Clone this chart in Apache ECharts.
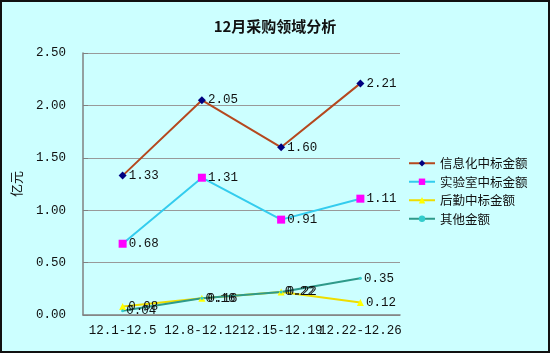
<!DOCTYPE html>
<html>
<head>
<meta charset="utf-8">
<script src="https://cdn.jsdelivr.net/npm/echarts@6/dist/echarts.min.js"></script>
<style>
  html, body { margin: 0; padding: 0; }
  #main { width: 550px; height: 353px; box-sizing: border-box; border: 2px solid #111; background: #ccffff; }
</style>
</head>
<body>
<div id="main"></div>
<script>
// periods and amounts (亿元)
var periods = ["12.1-12.5", "12.8-12.12", "12.15-12.19", "12.22-12.26"];
var infoAmt  = [1.33, 2.05, 1.60, 2.21];
var labAmt   = [0.68, 1.31, 0.91, 1.11];
var logiAmt  = [0.08, 0.16, 0.22, 0.12];
var otherAmt = [0.04, 0.16, 0.22, 0.35];
var yTicks = ["0.00", "0.50", "1.00", "1.50", "2.00", "2.50"];

var mono = "Liberation Mono";
var cjk = "Noto Sans CJK SC";

function mkSeries(name, data, lineColor, sym, symColor, symSize) {
  return {
    name: name,
    type: 'line',
    data: data,
    symbol: sym,
    symbolSize: symSize,
    lineStyle: { color: lineColor, width: 2 },
    itemStyle: { color: symColor },
    label: {
      show: true, position: 'right', distance: 2,
      fontFamily: mono, fontSize: 12.5, color: '#111',
      formatter: function (p) { return p.value.toFixed(2); }
    },
    animation: false
  };
}

var myChart = echarts.init(document.getElementById('main'));
var option = {
  title: {
    text: '12月采购领域分析',
    left: 'center', top: 12,
    textStyle: { fontFamily: cjk, fontSize: 15, fontWeight: 'bold', color: '#111' }
  },
  grid: { left: 78, right: 148, top: 51, bottom: 36 },
  legend: {
    orient: 'vertical', left: 401, top: 150,
    itemWidth: 26, itemHeight: 8, itemGap: 6,
    textStyle: { fontFamily: cjk, fontSize: 12.5, color: '#111' },
    data: ['信息化中标金额', '实验室中标金额', '后勤中标金额', '其他金额']
  },
  xAxis: {
    type: 'category',
    data: periods,
    boundaryGap: true,
    axisLine: { lineStyle: { color: '#808080', width: 1.5 } },
    axisTick: { inside: true, length: 5, lineStyle: { color: '#808080' } },
    axisLabel: { fontFamily: mono, fontSize: 12.5, color: '#111', margin: 9, interval: 0 }
  },
  yAxis: {
    type: 'value',
    min: 0, max: 2.5, interval: 0.5,
    name: '亿元', nameLocation: 'middle', nameGap: 60, nameRotate: 90,
    nameTextStyle: { fontFamily: cjk, fontSize: 13, color: '#111' },
    axisLine: { show: true, lineStyle: { color: '#808080', width: 1.5 } },
    axisTick: { show: true, inside: true, length: 5, lineStyle: { color: '#808080' } },
    axisLabel: {
      fontFamily: mono, fontSize: 12.5, color: '#111', margin: 17,
      formatter: function (v) { return yTicks[Math.round(v / 0.5)]; }
    },
    splitLine: { lineStyle: { color: '#999999', width: 1 } }
  },
  series: [
    mkSeries('信息化中标金额', infoAmt, '#b5481e', 'diamond', '#000080', 8),
    mkSeries('实验室中标金额', labAmt, '#33ccee', 'rect', '#ff00ff', 8),
    mkSeries('后勤中标金额', logiAmt, '#eedd00', 'triangle', '#ffff00', 7),
    mkSeries('其他金额', otherAmt, '#2e9a8a', 'circle', '#33cccc', 3)
  ]
};
myChart.setOption(option);
</script>
</body>
</html>
